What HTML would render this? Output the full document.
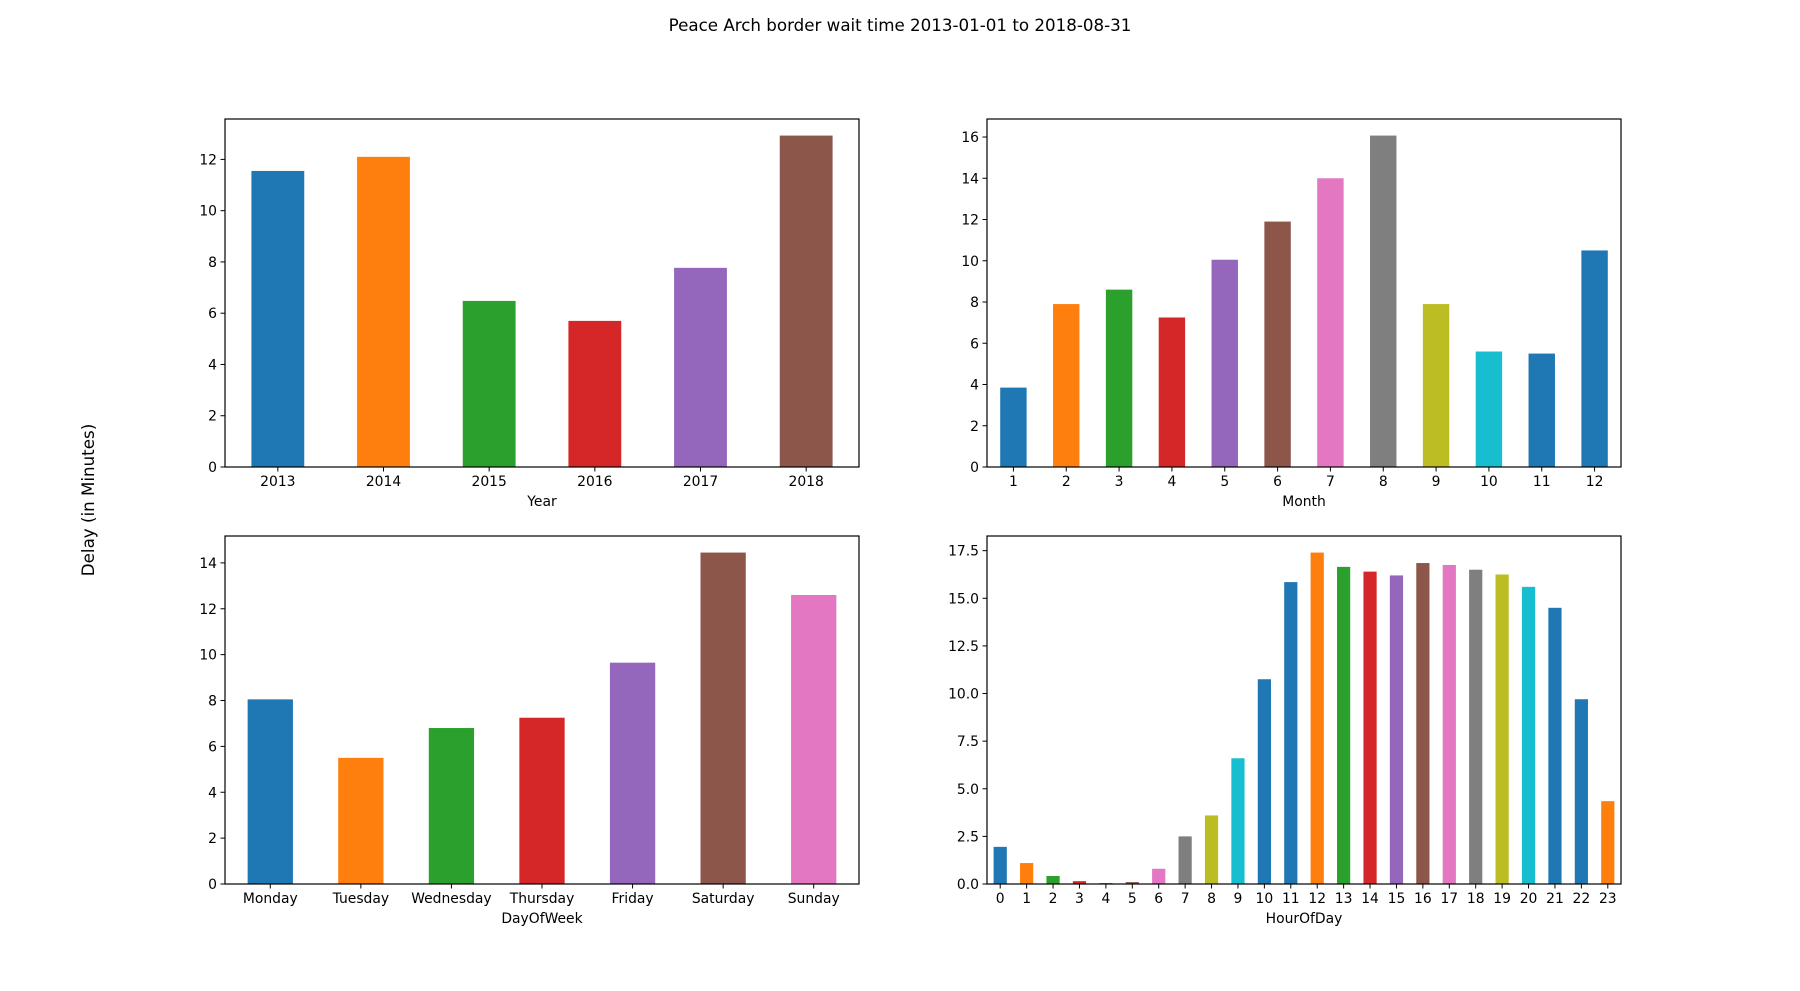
<!DOCTYPE html>
<html><head><meta charset="utf-8"><style>
html,body{margin:0;padding:0;background:#fff;}
svg{display:block;font-family:"DejaVu Sans","Liberation Sans",sans-serif;}
</style></head><body>
<svg id="fig" width="1800" height="991" viewBox="0 0 1800 991">
<text x="900" y="31" text-anchor="middle" font-size="16.7">Peace Arch border wait time 2013-01-01 to 2018-08-31</text>
<text transform="translate(94,500) rotate(-90)" text-anchor="middle" font-size="16.7">Delay (in Minutes)</text>
</svg>
<script>
const yearCats=["2013","2014","2015","2016","2017","2018"];
const yearVals=[11.55,12.1,6.48,5.7,7.77,12.93];
const yearTicks=[0,2,4,6,8,10,12];
const monthCats=["1","2","3","4","5","6","7","8","9","10","11","12"];
const monthVals=[3.85,7.9,8.6,7.25,10.05,11.9,14.0,16.07,7.9,5.6,5.5,10.5];
const monthTicks=[0,2,4,6,8,10,12,14,16];
const dayCats=["Monday","Tuesday","Wednesday","Thursday","Friday","Saturday","Sunday"];
const dayVals=[8.05,5.5,6.8,7.25,9.65,14.45,12.6];
const dayTicks=[0,2,4,6,8,10,12,14];
const hourCats=["0","1","2","3","4","5","6","7","8","9","10","11","12","13","14","15","16","17","18","19","20","21","22","23"];
const hourVals=[1.95,1.1,0.42,0.15,0.05,0.1,0.8,2.5,3.6,6.6,10.75,15.85,17.4,16.65,16.4,16.2,16.85,16.75,16.5,16.25,15.6,14.5,9.7,4.35];
const hourTicks=["0.0","2.5","5.0","7.5","10.0","12.5","15.0","17.5"];
const palette=["#1f77b4","#ff7f0e","#2ca02c","#d62728","#9467bd","#8c564b","#e377c2","#7f7f7f","#bcbd22","#17becf","#1f77b4"];
const NS="http://www.w3.org/2000/svg";
const fig=document.getElementById('fig');
function mk(tag,attrs,parent){const e=document.createElementNS(NS,tag);for(const k in attrs)e.setAttribute(k,attrs[k]);(parent||fig).appendChild(e);return e;}
function panel(name,box,cats,vals,ticks,xlabel){
  const [L,T,R,B]=box;
  const g=mk('g',{});
  
  
  const ymax=Math.max(...vals)*1.05;
  const n=cats.length;
  const xs=i=>L+(i+0.5)/n*(R-L);
  const ys=v=>B-v/ymax*(B-T);
  const bw=0.5/n*(R-L);
  vals.forEach((v,i)=>{
    const r=mk('rect',{x:xs(i)-bw/2,y:ys(v),width:bw,height:B-ys(v),fill:palette[i%palette.length]},g);
    
    
  });
  mk('rect',{x:L,y:T,width:R-L,height:B-T,fill:'none',stroke:'#000','stroke-width':1.2},g);
  ticks.forEach(t=>{
    const y=ys(parseFloat(t));
    mk('line',{x1:L-4.5,x2:L,y1:y,y2:y,stroke:'#000','stroke-width':1},g);
    const tx=mk('text',{x:L-8,y:y+5,'text-anchor':'end','font-size':13.9},g);
    tx.textContent=t;
    
    
  });
  cats.forEach((c,i)=>{
    const x=xs(i);
    mk('line',{x1:x,x2:x,y1:B,y2:B+4.5,stroke:'#000','stroke-width':1},g);
    const tx=mk('text',{x:x,y:B+19,'text-anchor':'middle','font-size':13.9},g);
    tx.textContent=c;
    
    
  });
  const xl=mk('text',{x:(L+R)/2,y:B+39,'text-anchor':'middle','font-size':13.9},g);
  xl.textContent=xlabel;
  
  
}
panel('year',[225,119,859,467],yearCats,yearVals,yearTicks.map(String),'Year');
panel('month',[987,119,1621,467],monthCats,monthVals,monthTicks.map(String),'Month');
panel('day',[225,536,859,884],dayCats,dayVals,dayTicks.map(String),'DayOfWeek');
panel('hour',[987,536,1621,884],hourCats,hourVals,hourTicks,'HourOfDay');
</script>
</body></html>
